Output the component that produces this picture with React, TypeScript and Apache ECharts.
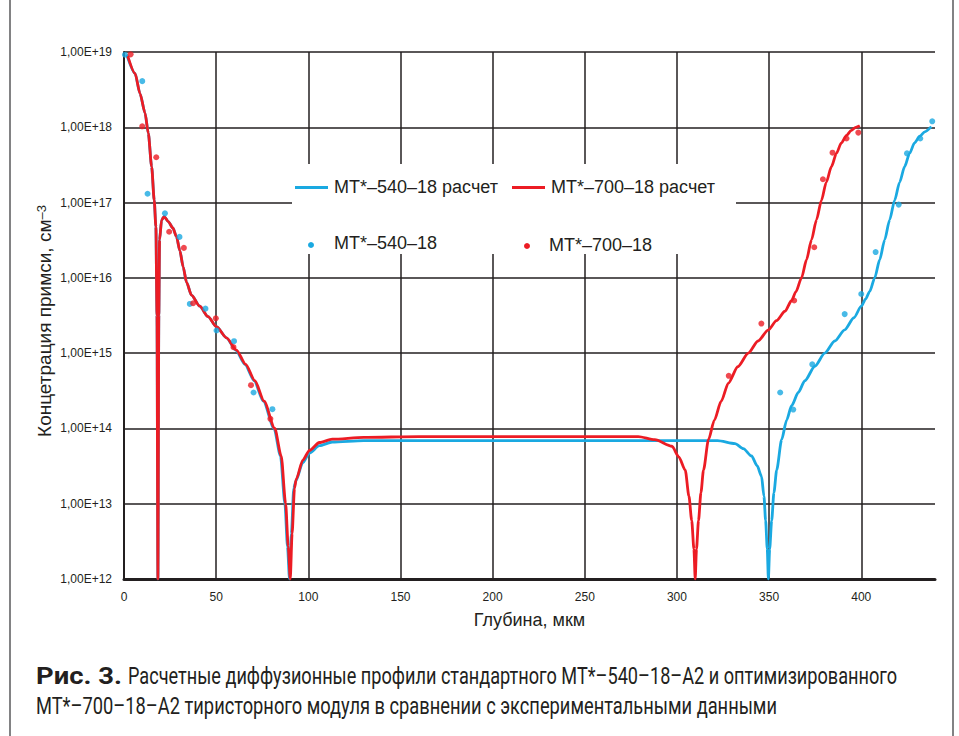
import React, { useEffect, useRef } from 'react';
import * as echarts from 'echarts';

// ---- Data (depth in µm, concentration in cm^-3) ----
const xTickValues = [0, 50, 100, 150, 200, 250, 300, 350, 400];
const yTickLabels: Record<number, string> = {
  12: '1,00E+12', 13: '1,00E+13', 14: '1,00E+14', 15: '1,00E+15',
  16: '1,00E+16', 17: '1,00E+17', 18: '1,00E+18', 19: '1,00E+19',
};

const calc700: [number, number][] = [
  [2, 8.9e18], [6, 5.2e18], [8.7, 2.8e18], [11.4, 1.55e18], [13.2, 8.3e17], [15, 3.0e17],
  [16.4, 1.07e17], [17.3, 4.8e16], [17.9, 3.2e15], [18.4, 1e12], [18.9, 3.2e15], [19.3, 3.2e16],
  [20.4, 5.9e16], [21.8, 6.5e16], [24, 5.6e16], [26.5, 4.6e16], [28.5, 3.5e16], [30.3, 2.3e16],
  [32.1, 1.4e16], [33.9, 8.8e15], [36.6, 5.9e15], [41.1, 4.2e15], [45.6, 3.05e15], [50.2, 2.24e15],
  [55.6, 1.6e15], [61, 1.1e15], [66, 7.1e14], [71, 4.3e14], [76, 2.3e14], [81.8, 1.0e14],
  [85.3, 4.3e13], [87.7, 1.0e13], [89.1, 2.7e12], [90.2, 1e12], [91.2, 4.0e12], [92.5, 1.6e13],
  [93.4, 2.1e13], [97, 3.8e13], [100.6, 5.1e13], [106, 6.5e13], [113, 7.2e13], [130, 7.6e13],
  [160, 7.8e13], [200, 7.8e13], [250, 7.8e13], [279, 7.8e13], [288, 7.1e13], [297.3, 5.8e13],
  [301, 4.2e13], [304.5, 2.8e13], [306.5, 1.26e13], [308, 6.0e12], [309.2, 2.5e12], [309.9, 1e12],
  [310.6, 2.5e12], [311.7, 6.0e12], [313, 1.4e13], [314.4, 2.8e13], [317.1, 7.1e13], [320.3, 1.29e14],
  [324, 2.3e14], [327.9, 4.0e14], [333, 6.6e14], [338.7, 1.0e15], [344, 1.45e15], [349.6, 2.04e15],
  [354, 2.7e15], [358.6, 3.6e15], [362.2, 5.0e15], [364.5, 6.5e15], [367.6, 1.0e16], [370.3, 1.74e16],
  [373, 3.2e16], [375.7, 5.9e16], [378.4, 1.07e17], [381, 1.86e17], [383.8, 3.0e17], [386.5, 4.5e17],
  [389.2, 6.2e17], [392, 7.8e17], [394.6, 9.1e17], [397, 1.0e18], [399.2, 1.05e18],
];

const calc540: [number, number][] = [
  [1.5, 9.2e18], [6, 5.2e18], [8.7, 2.8e18], [11.4, 1.55e18], [13.2, 8.3e17], [15, 3.0e17],
  [16.4, 1.07e17], [17.3, 4.8e16], [17.9, 3.2e15], [18.4, 1e12], [18.9, 3.2e15], [19.3, 3.2e16],
  [20.4, 5.9e16], [21.8, 6.5e16], [24, 5.6e16], [26.5, 4.6e16], [28.5, 3.5e16], [30.3, 2.3e16],
  [32.1, 1.4e16], [33.9, 8.8e15], [36.6, 5.9e15], [41.1, 4.2e15], [45.6, 3.05e15], [50.2, 2.24e15],
  [55.6, 1.6e15], [60.6, 1.1e15], [65.6, 7.1e14], [70.6, 4.3e14], [75.6, 2.3e14], [81.4, 1.0e14],
  [84.9, 4.3e13], [87.3, 1.0e13], [88.7, 2.7e12], [89.8, 1e12], [90.8, 4.0e12], [92.1, 1.6e13],
  [93.2, 2.0e13], [97, 3.5e13], [100.6, 4.7e13], [106, 5.9e13], [113, 6.6e13], [130, 6.9e13],
  [200, 6.9e13], [322, 6.9e13], [331.5, 6.3e13], [336, 5.4e13], [340.5, 4.3e13], [343.5, 3.2e13],
  [345.9, 2.3e13], [347.2, 1.26e13], [348.1, 6.0e12], [349, 2.5e12], [349.6, 1e12], [350.3, 2.5e12],
  [351.4, 6.0e12], [352.6, 1.4e13], [354.1, 2.8e13], [356.8, 7.1e13], [359.5, 1.29e14], [362.2, 2.0e14],
  [365.8, 3.0e14], [369.4, 4.3e14], [374.8, 6.7e14], [380.2, 1.0e15], [385.6, 1.45e15], [391, 2.04e15],
  [396, 2.95e15], [400, 4.2e15], [402.3, 5.2e15], [404.6, 6.6e15], [407.3, 1.0e16], [410, 1.74e16],
  [412.7, 3.2e16], [415.4, 5.9e16], [418.1, 1.07e17], [420.8, 1.86e17], [423.5, 3.0e17], [426.2, 4.5e17],
  [428.9, 6.2e17], [431.7, 7.6e17], [434.4, 8.7e17], [438, 1.02e18],
];

const exp540: [number, number][] = [
  [0.5, 9.2e18], [9.9, 4.1e18], [12.8, 1.31e17], [22.2, 7.2e16], [30.1, 3.5e16], [35.7, 4.5e15],
  [44.2, 3.9e15], [50.2, 2.0e15], [59.7, 1.44e15], [70.3, 3.0e14], [80.5, 1.8e14],
  [356, 3.0e14], [363.1, 1.78e14], [373.4, 7.1e14], [391, 3.3e15], [400, 6.1e15], [407.8, 2.2e16],
  [420.3, 9.4e16], [424.8, 4.5e17], [432, 7.1e17], [438.5, 1.2e18],
];

const exp700: [number, number][] = [
  [3.6, 9.3e18], [9.9, 1.03e18], [17.5, 4.0e17], [24.5, 4.1e16], [32.5, 2.5e16], [37.5, 4.6e15],
  [49.8, 2.9e15], [59.4, 1.2e15], [68.9, 3.75e14], [79.4, 1.34e14],
  [328.1, 5.0e14], [345.8, 2.47e15], [363.6, 5.0e15], [374.5, 2.55e16], [379.2, 2.04e17],
  [384.4, 4.6e17], [392, 7.1e17], [398.4, 8.5e17],
];

const seriesNames = ['МТ*–540–18 расчет', 'МТ*–700–18 расчет', 'МТ*–540–18', 'МТ*–700–18'];
const xAxisName = 'Глубина, мкм';
const yAxisName = 'Концетрация примси, см';
const captionBold = 'Рис. 3.';
const captionLine1 = 'Расчетные диффузионные профили стандартного МТ*–540–18–А2 и оптимизированного';
const captionLine2 = 'МТ*–700–18–А2 тиристорного модуля в сравнении с экспериментальными данными';

const BLUE = '#1aa9e1';
const RED = '#ec1c24';
const INK = '#231f20';

function fitScale(text: string, font: string, target: number): number {
  const c = document.createElement('canvas').getContext('2d');
  if (!c) return 1;
  c.font = font;
  const w = c.measureText(text).width;
  return w > 0 ? target / w : 1;
}

export default function App() {
  const ref = useRef<HTMLDivElement>(null);
  useEffect(() => {
    if (!ref.current) return;
    const chart = echarts.init(ref.current, undefined, { renderer: 'svg' });
    const capFamily = 'Roboto';
    const capSize = 23;
    const sB = fitScale(captionBold, `bold ${capSize}px ${capFamily}`, 86);
    const s1 = fitScale(captionLine1, `${capSize}px ${capFamily}`, 770);
    const s2 = fitScale(captionLine2, `${capSize}px ${capFamily}`, 741);
    const legendFont = { fontFamily: 'Liberation Sans, Arial', fontSize: 18, fill: INK };
    const capStyle = { fontFamily: capFamily, fontSize: capSize, fill: INK, textAlign: 'left', textVerticalAlign: 'middle' };

    chart.setOption({
      animation: false,
      backgroundColor: '#ffffff',
      grid: { left: 124, right: 24, top: 52, bottom: 157, containLabel: false },
      xAxis: {
        type: 'value', min: 0, max: 440, interval: 50,
        axisLine: { show: true, onZero: false, lineStyle: { color: INK, width: 3 } },
        axisTick: { show: false },
        axisLabel: {
          margin: 12, fontSize: 12, color: INK, fontFamily: 'Liberation Sans, Arial',
          formatter: (v: number) => (xTickValues.indexOf(v) >= 0 ? String(v) : ''),
        },
        splitLine: { show: true, showMaxLine: false, lineStyle: { color: INK, width: 1.5 } },
        name: xAxisName, nameLocation: 'middle', nameGap: 32,
        nameTextStyle: { fontSize: 18, color: INK, fontFamily: 'Liberation Sans, Arial' },
      },
      yAxis: {
        type: 'log', logBase: 10, min: 1e12, max: 1e19, interval: 1,
        axisLine: { show: true, lineStyle: { color: INK, width: 2 } },
        axisTick: { show: false },
        axisLabel: {
          margin: 12, fontSize: 12, color: INK, fontFamily: 'Liberation Sans, Arial',
          formatter: (v: number) => yTickLabels[Math.round(Math.log10(v))] || '',
        },
        splitLine: { show: true, lineStyle: { color: INK, width: 1.5 } },
      },
      series: [
        {
          name: seriesNames[0], type: 'line', data: calc540, showSymbol: false, z: 2,
          smooth: 0.25, smoothMonotone: 'x',
          lineStyle: { color: BLUE, width: 2.8 }, itemStyle: { color: BLUE },
        },
        {
          name: seriesNames[1], type: 'line', data: calc700, showSymbol: false, z: 3,
          smooth: 0.25, smoothMonotone: 'x',
          lineStyle: { color: RED, width: 2.8 }, itemStyle: { color: RED },
        },
        {
          name: seriesNames[2], type: 'scatter', data: exp540, symbolSize: 6, z: 4,
          itemStyle: { color: BLUE },
        },
        {
          name: seriesNames[3], type: 'scatter', data: exp700, symbolSize: 6, z: 4,
          itemStyle: { color: RED },
        },
      ],
      graphic: [
        // outer frame
        { type: 'line', z: 10, shape: { x1: 10, y1: 0, x2: 10, y2: 736 }, style: { stroke: '#58595b', lineWidth: 1.5 } },
        { type: 'line', z: 10, shape: { x1: 953, y1: 0, x2: 953, y2: 736 }, style: { stroke: '#58595b', lineWidth: 1.5 } },
        // legend box
        { type: 'rect', z: 1, shape: { x: 292, y: 164, width: 444, height: 90 }, style: { fill: '#ffffff' } },
        { type: 'line', z: 5, shape: { x1: 295, y1: 187.5, x2: 328, y2: 187.5 }, style: { stroke: BLUE, lineWidth: 3 } },
        { type: 'text', z: 5, x: 334, y: 186.5, style: { ...legendFont, text: seriesNames[0], textAlign: 'left', textVerticalAlign: 'middle' } },
        { type: 'line', z: 5, shape: { x1: 512, y1: 187.5, x2: 545, y2: 187.5 }, style: { stroke: RED, lineWidth: 3 } },
        { type: 'text', z: 5, x: 551, y: 186.5, style: { ...legendFont, text: seriesNames[1], textAlign: 'left', textVerticalAlign: 'middle' } },
        { type: 'circle', z: 5, shape: { cx: 311, cy: 245, r: 3 }, style: { fill: BLUE } },
        { type: 'text', z: 5, x: 334, y: 242.5, style: { ...legendFont, text: seriesNames[2], textAlign: 'left', textVerticalAlign: 'middle' } },
        { type: 'circle', z: 5, shape: { cx: 527, cy: 246, r: 3 }, style: { fill: RED } },
        { type: 'text', z: 5, x: 549, y: 244.5, style: { ...legendFont, text: seriesNames[3], textAlign: 'left', textVerticalAlign: 'middle' } },
        // y axis name
        {
          type: 'text', z: 5, x: 44, y: 321, rotation: Math.PI / 2,
          style: {
            text: yAxisName + '{sup|–3}', fontSize: 19, fill: INK,
            fontFamily: 'Liberation Sans, Arial', textAlign: 'center', textVerticalAlign: 'middle',
            rich: { sup: { fontSize: 13, fill: INK, fontFamily: 'Liberation Sans, Arial', verticalAlign: 'top', lineHeight: 13 } },
          },
        },
        // caption
        { type: 'text', z: 5, x: 36, y: 676, scaleX: sB, style: { ...capStyle, text: captionBold, fontWeight: 'bold' } },
        { type: 'text', z: 5, x: 128, y: 676, scaleX: s1, style: { ...capStyle, text: captionLine1 } },
        { type: 'text', z: 5, x: 36, y: 706, scaleX: s2, style: { ...capStyle, text: captionLine2 } },
      ],
    });
    return () => chart.dispose();
  }, []);
  return <div ref={ref} style={{ position: 'absolute', left: 0, top: 0, width: 959, height: 736 }} />;
}
